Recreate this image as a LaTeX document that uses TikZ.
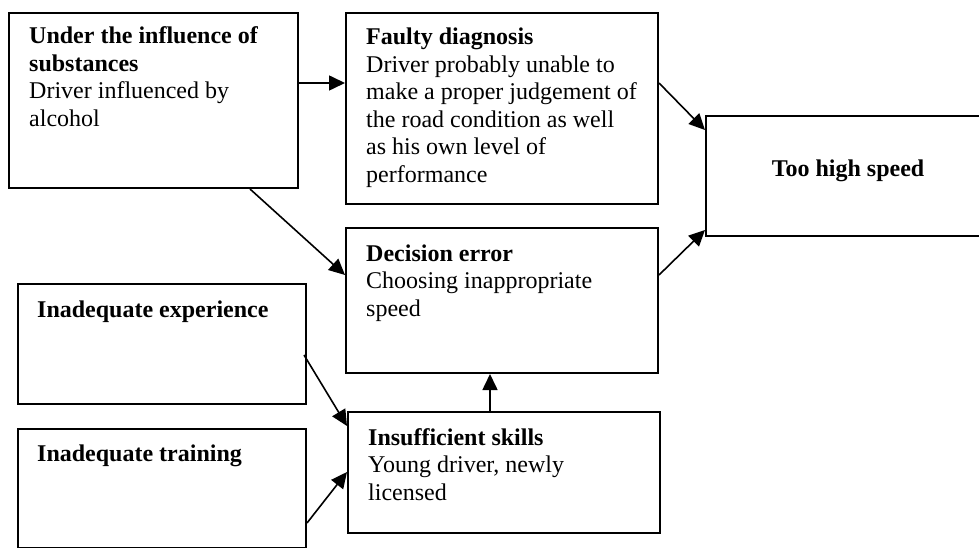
\documentclass[tikz,border=0pt]{standalone}
\usepackage{fontspec}
\setmainfont{Liberation Serif}
\usetikzlibrary{arrows.meta}

\tikzset{
  box/.style={draw=black, line width=2pt, anchor=north west, inner sep=0pt},
  label/.style={anchor=base west, inner sep=0pt},
  arr/.style={line width=1.6pt, -{Triangle[length=16pt, width=15pt]}},
}
\newcommand{\boxtext}[1]{\parbox[t]{320pt}{\fontsize{24}{27.5}\selectfont #1}}

\begin{document}
\begin{tikzpicture}[x=1pt, y=-1pt]
  \useasboundingbox (0,0) rectangle (979,548);
  \clip (0,0) rectangle (979,548);

  % boxes
  \node[box, minimum width=289pt, minimum height=175pt] (A) at (8,12) {};
  \node[box, minimum width=312pt, minimum height=191pt] (B) at (345,12) {};
  \node[box, minimum width=300pt, minimum height=120pt] (C) at (705,115) {};
  \node[box, minimum width=312pt, minimum height=145pt] (D) at (345,227) {};
  \node[box, minimum width=288pt, minimum height=120pt] (E) at (17,283) {};
  \node[box, minimum width=288pt, minimum height=119pt] (F) at (17,428) {};
  \node[box, minimum width=312pt, minimum height=121pt] (G) at (347,411) {};

  % box texts
  \node[label] (At) at (29,44) {\boxtext{\textbf{Under the influence of}\\\textbf{substances}\\Driver influenced by\\alcohol}};
  \node[label] (Bt) at (366,45) {\boxtext{\textbf{Faulty diagnosis}\\Driver probably unable to\\make a proper judgement of\\the road condition as well\\as his own level of\\performance}};
  \node[anchor=base, inner sep=0pt] (Ct) at (848,177) {\fontsize{24}{27.5}\selectfont\textbf{Too high speed}};
  \node[label] (Dt) at (366,261) {\boxtext{\textbf{Decision error}\\Choosing inappropriate\\speed}};
  \node[label] (Et) at (37,317) {\boxtext{\textbf{Inadequate experience}}};
  \node[label] (Ft) at (37,461) {\boxtext{\textbf{Inadequate training}}};
  \node[label] (Gt) at (368,445) {\boxtext{\textbf{Insufficient skills}\\Young driver, newly\\licensed}};

  % connectors
  \draw[arr] ([yshift=-71pt]A.north east) -- ([yshift=-71pt]B.north west);
  \draw[arr] ([xshift=-49pt]A.south east) -- ([yshift=-48pt]D.north west);
  \draw[arr] ([yshift=-71pt]B.north east) -- ([yshift=-15pt]C.north west);
  \draw[arr] ([yshift=-48pt]D.north east) -- ([yshift=7pt]C.south west);
  \draw[arr] ([xshift=-3pt,yshift=-72pt]E.north east) -- ([yshift=-15pt]G.north west);
  \draw[arr] ([yshift=-95pt]F.north east) -- ([yshift=-61pt]G.north west);
  \coordinate (Gup) at ([xshift=-14pt]G.north);
  \draw[arr] (Gup) -- (Gup |- D.south);
\end{tikzpicture}
\end{document}
